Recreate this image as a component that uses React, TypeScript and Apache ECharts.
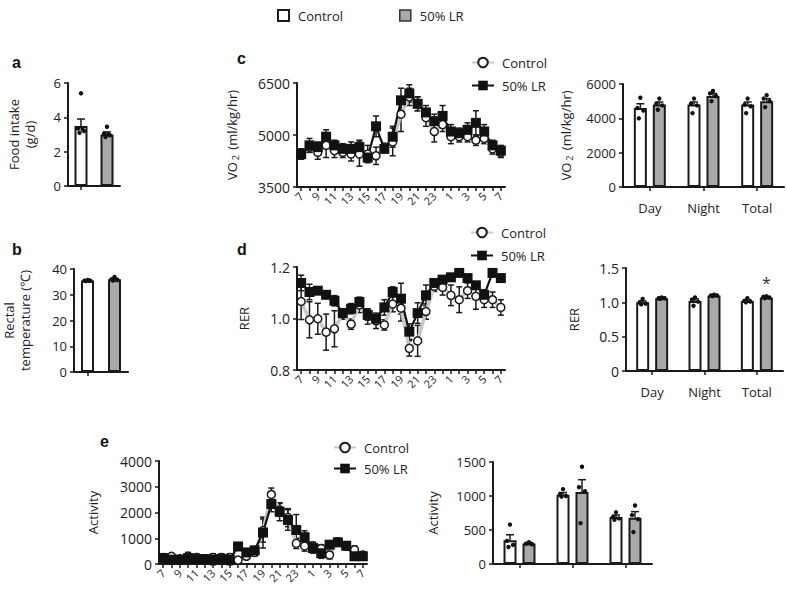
import React, { useEffect, useRef } from 'react';
import * as echarts from 'echarts';

// ---------- Data ----------
const hours = ['7','8','9','10','11','12','13','14','15','16','17','18','19','20','21','22','23','0','1','2','3','4','5','6','7'];
const groups = ['Control', '50% LR'];
const periods = ['Day', 'Night', 'Total'];

// a: food intake
const foodMean = [3.5, 3.0];
const foodErr = [0.4, 0.15];
const foodPts = [[5.4, 3.35, 3.2, 3.1, 3.3], [3.45, 3.05, 2.95, 2.85, 3.0]];

// b: rectal temperature
const tempMean = [35.5, 36.0];
const tempErr = [0.3, 0.4];
const tempPts = [[35.7, 35.5, 35.4, 35.3, 35.6], [36.9, 36.0, 35.7, 35.5, 35.8]];

// c: VO2 hourly
const vo2Ctrl = [4450, 4650, 4500, 4700, 4550, 4500, 4450, 4450, 4450, 4400, 4650, 4800, 5600, 6100, 5900, 5500, 5100, 5300, 4950, 4950, 4950, 4850, 4900, 4600, 4500];
const vo2CtrlErr = [150, 150, 200, 350, 200, 150, 200, 350, 250, 250, 100, 400, 500, 250, 200, 250, 300, 200, 200, 150, 150, 150, 150, 150, 150];
const vo2Lr = [4450, 4700, 4650, 4950, 4700, 4600, 4600, 4650, 4350, 5250, 4600, 4950, 6000, 6200, 5900, 5650, 5400, 5550, 5100, 5050, 5150, 5350, 5100, 4700, 4550];
const vo2LrErr = [150, 200, 150, 200, 150, 150, 200, 200, 100, 300, 100, 300, 350, 250, 200, 200, 200, 300, 200, 150, 200, 350, 200, 150, 150];

// c: VO2 by period
const vo2BarCtrl = [4600, 4800, 4800];
const vo2BarCtrlErr = [250, 150, 150];
const vo2BarCtrlPts = [[5200, 4600, 4450, 4000], [5150, 4850, 4750, 4300], [5150, 4800, 4700, 4300]];
const vo2BarLr = [4800, 5300, 5000];
const vo2BarLrErr = [150, 150, 150];
const vo2BarLrPts = [[5150, 4850, 4750, 4500], [5600, 5450, 5300, 5000], [5350, 5150, 5000, 4650]];

// d: RER hourly
const rerCtrl = [1.066, 0.995, 0.999, 0.947, 0.96, 1.017, 0.978, 1.053, 1.008, 0.991, 0.975, 1.056, 1.04, 0.884, 0.913, 1.027, 1.125, 1.121, 1.09, 1.073, 1.108, 1.086, 1.073, 1.073, 1.043];
const rerCtrlErr = [0.07, 0.07, 0.06, 0.07, 0.07, 0.02, 0.02, 0.03, 0.03, 0.03, 0.02, 0.03, 0.05, 0.03, 0.06, 0.03, 0.02, 0.03, 0.04, 0.05, 0.03, 0.05, 0.03, 0.03, 0.03];
const rerLr = [1.138, 1.103, 1.108, 1.092, 1.069, 1.021, 1.038, 1.064, 1.014, 0.999, 1.043, 1.103, 1.077, 0.949, 1.021, 1.09, 1.138, 1.151, 1.16, 1.177, 1.157, 1.129, 1.092, 1.177, 1.157];
const rerLrErr = [0.03, 0.03, 0.01, 0.01, 0.02, 0.01, 0.02, 0.01, 0.02, 0.01, 0.03, 0.02, 0.06, 0.03, 0.04, 0.04, 0.01, 0.01, 0.01, 0.01, 0.01, 0.01, 0.02, 0.01, 0.01];

// d: RER by period
const rerBarCtrl = [1.0, 1.02, 1.02];
const rerBarCtrlErr = [0.02, 0.03, 0.02];
const rerBarCtrlPts = [[1.05, 1.0, 0.98, 0.97], [1.07, 1.04, 1.01, 0.95], [1.06, 1.02, 1.01, 1.0]];
const rerBarLr = [1.06, 1.1, 1.07];
const rerBarLrErr = [0.01, 0.01, 0.01];
const rerBarLrPts = [[1.07, 1.06, 1.06, 1.05], [1.11, 1.1, 1.1, 1.09], [1.09, 1.08, 1.07, 1.06]];
const rerSignif = ['', '', '*'];

// e: activity hourly
const actCtrl = [250, 300, 200, 300, 250, 200, 250, 250, 250, 150, 300, 450, 1300, 2700, 2100, 1800, 800, 700, 700, 600, 350, 850, 700, 550, 350];
const actCtrlErr = [150, 100, 100, 150, 150, 100, 150, 150, 150, 100, 100, 150, 450, 250, 250, 350, 200, 200, 150, 150, 150, 150, 150, 150, 100];
const actLr = [230, 170, 170, 230, 190, 190, 170, 190, 170, 680, 450, 530, 1220, 2330, 2030, 1710, 1320, 1040, 620, 420, 750, 840, 710, 300, 300];
const actLrErr = [100, 100, 100, 100, 100, 150, 200, 200, 200, 150, 100, 150, 600, 300, 350, 400, 600, 250, 200, 200, 150, 150, 150, 150, 100];

// e: activity by period
const actBarCtrl = [350, 1020, 690];
const actBarCtrlErr = [80, 30, 30];
const actBarCtrlPts = [[580, 340, 280, 250], [1100, 1030, 1000, 990], [760, 690, 670, 650]];
const actBarLr = [300, 1060, 680];
const actBarLrErr = [15, 180, 90];
const actBarLrPts = [[320, 300, 290], [1430, 1130, 1070, 600], [860, 720, 660, 470]];

// ---------- Styling helpers ----------
const FONT = 'Open Sans';
const INK = '#1a1a1a';
const GREY_BAR = '#a9a9ab';
const CTRL_LINE = '#c8c8c8';
const JIT = [0, -3, 3, -1.5, 1.5];

const axisLine = { show: true, lineStyle: { color: INK, width: 2 } };
const axisTick = { show: true, length: 4, lineStyle: { color: INK, width: 1.5 } };
const labelStyle = { color: '#222', fontSize: 13, fontFamily: FONT };
const nameStyle = {
  color: '#222', fontSize: 13, fontFamily: FONT, lineHeight: 16,
  rich: { sub: { fontSize: 9, fontFamily: FONT, color: '#222', verticalAlign: 'bottom', padding: [0, 2, 0, 2] } },
};

const fmtInt = (v: number) => String(Math.round(v));
const fmt1 = (v: number) => v.toFixed(1);
const fmtR = (v: number) => (v === 0 ? '0' : v.toFixed(1));

function yAxis(grid: number, min: number, max: number, interval: number, name: string, gap: number, fmt: (v: number) => string = fmtInt, fs = 13) {
  return {
    type: 'value', gridIndex: grid, min, max, interval,
    name, nameLocation: 'middle', nameGap: gap, nameTextStyle: nameStyle,
    axisLine, axisTick, splitLine: { show: false },
    axisLabel: { ...labelStyle, fontSize: fs, margin: 7, formatter: fmt },
  };
}

function catAxis(grid: number, data: string[], showLabels: boolean) {
  return {
    type: 'category', gridIndex: grid, data,
    axisLine, axisTick: { ...axisTick, alignWithLabel: true },
    axisLabel: { ...labelStyle, show: showLabels, margin: 14 },
    splitLine: { show: false },
  };
}

function hourAxis(grid: number) {
  return {
    type: 'category', gridIndex: grid, data: hours,
    axisLine, axisTick: { ...axisTick, alignWithLabel: true, interval: 0 },
    axisLabel: { color: '#222', fontSize: 11, fontFamily: FONT, interval: 1, rotate: 45, margin: 7 },
    splitLine: { show: false },
  };
}

function lineErr(idx: number, vals: number[], errs: number[]) {
  return {
    type: 'custom', xAxisIndex: idx, yAxisIndex: idx, silent: true,
    data: vals.map((v, i) => [i, v, errs[i]]),
    renderItem: (_p: any, api: any) => {
      const i = api.value(0), v = api.value(1), e = api.value(2);
      const t = api.coord([i, v + e]);
      const b = api.coord([i, v - e]);
      const w = 3;
      const st = { stroke: INK, lineWidth: 1.5 };
      return {
        type: 'group', children: [
          { type: 'line', shape: { x1: t[0], y1: t[1], x2: b[0], y2: b[1] }, style: st },
          { type: 'line', shape: { x1: t[0] - w, y1: t[1], x2: t[0] + w, y2: t[1] }, style: st },
          { type: 'line', shape: { x1: b[0] - w, y1: b[1], x2: b[0] + w, y2: b[1] }, style: st },
        ],
      };
    },
  };
}

function barExtras(idx: number, means: number[], errs: number[], pts: number[][], offset: number) {
  return {
    type: 'custom', xAxisIndex: idx, yAxisIndex: idx, silent: true, z: 5,
    data: means.map((m, i) => [i, m, errs[i]]),
    renderItem: (_p: any, api: any) => {
      const i = api.value(0), m = api.value(1), e = api.value(2);
      const base = api.coord([i, m]);
      const top = api.coord([i, m + e]);
      const x = base[0] + offset;
      const st = { stroke: INK, lineWidth: 1.5 };
      const children: any[] = [
        { type: 'line', shape: { x1: x, y1: base[1], x2: x, y2: top[1] }, style: st },
        { type: 'line', shape: { x1: x - 4, y1: top[1], x2: x + 4, y2: top[1] }, style: st },
      ];
      pts[i].forEach((p, j) => {
        const c = api.coord([i, p]);
        children.push({ type: 'circle', shape: { cx: x + JIT[j % JIT.length], cy: c[1], r: 2.2 }, style: { fill: '#111' } });
      });
      return { type: 'group', children };
    },
  };
}

function ctrlLine(idx: number, vals: number[]) {
  return {
    type: 'line', name: 'Control', xAxisIndex: idx, yAxisIndex: idx, data: vals,
    symbol: 'circle', symbolSize: 8, showAllSymbol: true,
    itemStyle: { color: '#fff', borderColor: INK, borderWidth: 1.5 },
    lineStyle: { color: CTRL_LINE, width: 3.5 },
  };
}

function lrLine(idx: number, vals: number[]) {
  return {
    type: 'line', name: '50% LR', xAxisIndex: idx, yAxisIndex: idx, data: vals,
    symbol: 'rect', symbolSize: 10, showAllSymbol: true,
    itemStyle: { color: '#111' },
    lineStyle: { color: '#111', width: 2.2 },
  };
}

function pairBar(idx: number, name: string, vals: number[], color: string, labels?: string[]) {
  return {
    type: 'bar', name, xAxisIndex: idx, yAxisIndex: idx,
    data: vals.map((v, i) => labels && labels[i]
      ? { value: v, label: { show: true, position: 'top', distance: 7, formatter: labels[i], fontSize: 16, color: '#333', fontFamily: FONT } }
      : v),
    barWidth: 13, barGap: '46%',
    itemStyle: { color, borderColor: INK, borderWidth: 2 },
  };
}

function singleBar(idx: number, name: string, vals: number[]) {
  return {
    type: 'bar', name, xAxisIndex: idx, yAxisIndex: idx,
    data: vals.map((v, i) => ({ value: v, itemStyle: { color: i === 0 ? '#fff' : GREY_BAR } })),
    barWidth: 13,
    itemStyle: { borderColor: INK, borderWidth: 2 },
  };
}

function lineLegend(left: number, top: number, gap: number) {
  return {
    show: true, orient: 'vertical', left, top, itemWidth: 22, itemHeight: 12, itemGap: gap,
    selectedMode: false, data: groups,
    textStyle: { color: '#222', fontSize: 13, fontFamily: FONT, padding: [0, 0, 0, 3] },
  };
}

function buildOption() {
  const grid = [
    { left: 68, top: 83, width: 52, height: 103 },   // a
    { left: 73, top: 269, width: 55, height: 103 },  // b
    { left: 297, top: 83, width: 208, height: 104 }, // c line
    { left: 623, top: 84, width: 161, height: 103 }, // c bar
    { left: 297, top: 267, width: 208, height: 103 },// d line
    { left: 626, top: 268, width: 157, height: 103 },// d bar
    { left: 159, top: 461, width: 208, height: 103 },// e line
    { left: 493, top: 462, width: 159, height: 102 },// e bar
  ];

  const xAxis = [
    catAxis(0, groups, false),
    catAxis(1, groups, false),
    hourAxis(2),
    catAxis(3, periods, true),
    hourAxis(4),
    catAxis(5, periods, true),
    hourAxis(6),
    catAxis(7, periods, false),
  ];

  const yAxes = [
    yAxis(0, 0, 6, 2, 'Food intake\n(g/d)', 30),
    yAxis(1, 0, 40, 10, 'Rectal\ntemperature (℃)', 41),
    yAxis(2, 3500, 6500, 1500, 'VO{sub|2} (ml/kg/hr)', 57, fmtInt, 14),
    yAxis(3, 0, 6000, 2000, 'VO{sub|2} (ml/kg/hr)', 49),
    yAxis(4, 0.8, 1.2, 0.2, 'RER', 45, fmt1, 14),
    yAxis(5, 0, 1.5, 0.5, 'RER', 44, fmtR, 14),
    yAxis(6, 0, 4000, 1000, 'Activity', 58, fmtInt, 14),
    yAxis(7, 0, 1500, 500, 'Activity', 52),
  ];

  const series: any[] = [
    lineErr(2, vo2Ctrl, vo2CtrlErr), ctrlLine(2, vo2Ctrl),
    lineErr(2, vo2Lr, vo2LrErr), lrLine(2, vo2Lr),
    lineErr(4, rerCtrl, rerCtrlErr), ctrlLine(4, rerCtrl),
    lineErr(4, rerLr, rerLrErr), lrLine(4, rerLr),
    lineErr(6, actCtrl, actCtrlErr), ctrlLine(6, actCtrl),
    lineErr(6, actLr, actLrErr), lrLine(6, actLr),
    singleBar(0, 'Food intake', foodMean),
    barExtras(0, foodMean, foodErr, foodPts, 0),
    singleBar(1, 'Rectal temperature', tempMean),
    barExtras(1, tempMean, tempErr, tempPts, 0),
    pairBar(3, 'Control', vo2BarCtrl, '#fff'), pairBar(3, '50% LR', vo2BarLr, GREY_BAR),
    barExtras(3, vo2BarCtrl, vo2BarCtrlErr, vo2BarCtrlPts, -9.5),
    barExtras(3, vo2BarLr, vo2BarLrErr, vo2BarLrPts, 9.5),
    pairBar(5, 'Control', rerBarCtrl, '#fff'), pairBar(5, '50% LR', rerBarLr, GREY_BAR, rerSignif),
    barExtras(5, rerBarCtrl, rerBarCtrlErr, rerBarCtrlPts, -9.5),
    barExtras(5, rerBarLr, rerBarLrErr, rerBarLrPts, 9.5),
    pairBar(7, 'Control', actBarCtrl, '#fff'), pairBar(7, '50% LR', actBarLr, GREY_BAR),
    barExtras(7, actBarCtrl, actBarCtrlErr, actBarCtrlPts, -9.5),
    barExtras(7, actBarLr, actBarLrErr, actBarLrPts, 9.5),
  ];

  const legend = [
    {
      show: true, orient: 'horizontal', left: 272, top: 4, itemWidth: 11, itemHeight: 11, itemGap: 56,
      selectedMode: false,
      data: [
        { name: 'Control', icon: 'rect', itemStyle: { color: '#fff', borderColor: INK, borderWidth: 2 } },
        { name: '50% LR', icon: 'rect', itemStyle: { color: GREY_BAR, borderColor: '#333', borderWidth: 1.5 } },
      ],
      textStyle: { color: '#222', fontSize: 13, fontFamily: FONT, padding: [0, 0, 0, 4] },
    },
    lineLegend(466, 51, 10),
    lineLegend(465, 221, 10),
    lineLegend(328, 436, 8),
  ];

  const letter = (t: string, x: number, y: number) => ({
    type: 'text', x, y,
    style: { text: t, fontSize: 16, fontWeight: 'bold', fontFamily: 'Liberation Sans', fill: '#111', verticalAlign: 'middle' },
  });

  return {
    animation: false,
    backgroundColor: '#fff',
    grid, xAxis, yAxis: yAxes, series, legend,
    graphic: [
      letter('a', 12, 62),
      letter('b', 12, 249),
      letter('c', 237, 58),
      letter('d', 237, 249),
      letter('e', 100, 441),
    ],
  };
}

export default function App() {
  const ref = useRef<HTMLDivElement>(null);
  useEffect(() => {
    if (!ref.current) return;
    const chart = echarts.init(ref.current, null, { renderer: 'svg' });
    chart.setOption(buildOption() as any);
    return () => chart.dispose();
  }, []);
  return (
    <div
      ref={ref}
      style={{ position: 'absolute', left: 0, top: 0, width: 787, height: 595, background: '#fff' }}
    />
  );
}
